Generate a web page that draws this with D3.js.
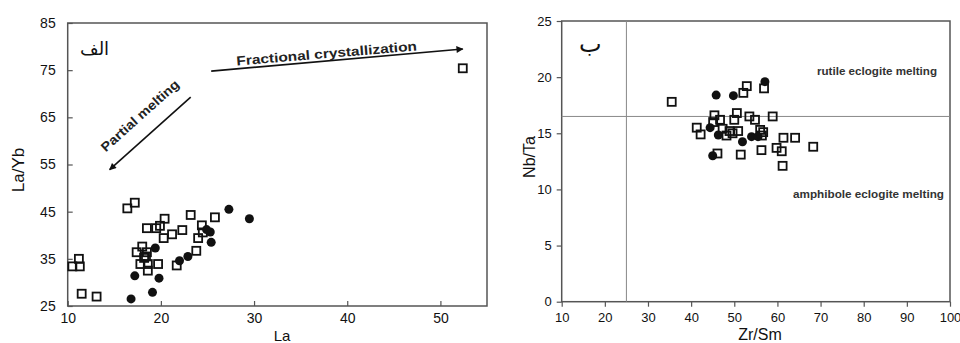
<!DOCTYPE html>
<html>
<head>
<meta charset="utf-8">
<script src="https://cdn.jsdelivr.net/npm/d3@7/dist/d3.min.js"></script>
<style>
  body { margin: 0; background: #fff; }
  svg { display: block; font-family: "Liberation Sans", Arial, sans-serif; }
</style>
</head>
<body>
<div id="chart"></div>
<script>
// left panel: La vs La/Yb
const laTicks = [10, 20, 30, 40, 50];
const laYbTicks = [25, 35, 45, 55, 65, 75, 85];
const laYbOpen = [
  [52.4, 75.4], [10.5, 33.4], [11.3, 33.4], [11.2, 35.0], [11.5, 27.6], [13.1, 27.0],
  [16.4, 45.7], [17.2, 46.9], [18.5, 41.5], [19.5, 41.5], [20.4, 43.5], [19.9, 42.0],
  [20.3, 39.4], [21.2, 40.2], [22.3, 41.1], [23.2, 44.3], [24.4, 42.1], [25.8, 43.8],
  [24.0, 39.4], [24.5, 40.6], [23.8, 36.7], [21.7, 33.6], [17.4, 36.4], [18.0, 37.6],
  [18.5, 36.4], [17.8, 33.9], [18.6, 33.9], [19.7, 33.9], [18.6, 32.5], [18.4, 35.5],
  [18.2, 35.2]
];
const laYbFilled = [
  [27.3, 45.5], [29.5, 43.5], [25.3, 40.7], [24.9, 41.2], [25.4, 38.5], [22.9, 35.5],
  [22.0, 34.6], [19.4, 37.3], [17.2, 31.4], [19.8, 30.9], [19.1, 27.9], [16.8, 26.5]
];

// right panel: Zr/Sm vs Nb/Ta
const zrSmTicks = [10, 20, 30, 40, 50, 60, 70, 80, 90, 100];
const nbTaTicks = [0, 5, 10, 15, 20, 25];
const nbTaOpen = [
  [35.5, 17.8], [41.3, 15.5], [42.2, 14.9], [45.4, 16.6], [46.1, 13.2], [45.1, 16.0],
  [46.7, 16.2], [48.2, 14.8], [48.9, 15.2], [50.6, 16.8], [50.0, 16.2], [50.9, 15.2],
  [51.5, 13.1], [52.1, 18.6], [52.9, 19.2], [53.5, 16.5], [54.8, 16.2], [56.0, 15.3],
  [56.9, 19.0], [56.7, 15.1], [56.4, 14.8], [56.3, 13.5], [58.9, 16.5], [59.8, 13.7],
  [61.0, 13.4], [61.2, 12.1], [61.4, 14.6], [64.1, 14.6], [68.3, 13.8], [47.3, 15.4],
  [49.6, 15.0]
];
const nbTaFilled = [
  [45.8, 18.4], [49.8, 18.35], [57.1, 19.6], [44.4, 15.5], [46.3, 14.85], [45.0, 13.0],
  [51.9, 14.25], [54.0, 14.7], [55.5, 14.7]
];
const zrSmLine = 25;
const nbTaLine = 16.5;

const svg = d3.select('#chart').append('svg')
  .attr('width', 960).attr('height', 343);

const axisColor = '#555';

function drawPoints(g, x, y, open, filled) {
  g.selectAll('rect.pt').data(open).enter().append('rect')
    .attr('class', 'pt')
    .attr('x', d => x(d[0]) - 4).attr('y', d => y(d[1]) - 4)
    .attr('width', 8).attr('height', 8)
    .attr('fill', 'none').attr('stroke', '#111').attr('stroke-width', 1.8);
  g.selectAll('circle.pt').data(filled).enter().append('circle')
    .attr('class', 'pt')
    .attr('cx', d => x(d[0])).attr('cy', d => y(d[1]))
    .attr('r', 4.5).attr('fill', '#111');
}

function styleAxis(g, size) {
  g.select('.domain').remove();
  g.selectAll('line').attr('stroke', axisColor).attr('stroke-width', 1.2);
  g.selectAll('text').attr('fill', '#111').style('font-size', size + 'px');
}

// ---- left panel ----
const x1 = d3.scaleLinear().domain([10, 55]).range([67.7, 487]);
const y1 = d3.scaleLinear().domain([25, 85]).range([306, 23]);
const left = svg.append('g');

left.append('rect')
  .attr('x', x1(10)).attr('y', y1(85))
  .attr('width', x1(55) - x1(10)).attr('height', y1(25) - y1(85))
  .attr('fill', 'none').attr('stroke', axisColor).attr('stroke-width', 1.5);

left.append('g')
  .attr('transform', `translate(0,${y1(25)})`)
  .call(d3.axisBottom(x1).tickValues(laTicks).tickSizeInner(-5).tickSizeOuter(0).tickPadding(7))
  .call(g => styleAxis(g, 14));

left.append('g')
  .attr('transform', `translate(${x1(10)},0)`)
  .call(d3.axisLeft(y1).tickValues(laYbTicks).tickSizeInner(-5).tickSizeOuter(0).tickPadding(12))
  .call(g => styleAxis(g, 14));

left.append('text')
  .attr('x', 282).attr('y', 341)
  .attr('text-anchor', 'middle').style('font-size', '15px').attr('fill', '#111')
  .text('La');

left.append('text')
  .attr('transform', 'translate(24,170) rotate(-90)')
  .attr('text-anchor', 'middle').style('font-size', '17px').attr('fill', '#111')
  .text('La/Yb');

left.append('text')
  .attr('x', 80).attr('y', 55)
  .style('font-family', '"DejaVu Sans", sans-serif').style('font-size', '18px')
  .attr('fill', '#111')
  .text('الف');

const defs = svg.append('defs');
defs.append('marker')
  .attr('id', 'arrow').attr('viewBox', '0 0 10 10')
  .attr('refX', 9).attr('refY', 5)
  .attr('markerWidth', 10).attr('markerHeight', 7)
  .attr('markerUnits', 'userSpaceOnUse')
  .attr('orient', 'auto')
  .append('path').attr('d', 'M0,0 L10,5 L0,10 Z').attr('fill', '#111');

// fractional crystallization arrow
const fc = [[25.4, 74.8], [52.4, 79.5]];
left.append('line')
  .attr('x1', x1(fc[0][0])).attr('y1', y1(fc[0][1]))
  .attr('x2', x1(fc[1][0])).attr('y2', y1(fc[1][1]))
  .attr('stroke', '#111').attr('stroke-width', 1.6)
  .attr('marker-end', 'url(#arrow)');
left.append('text')
  .attr('transform', 'translate(327,58) rotate(-4.8)')
  .attr('text-anchor', 'middle')
  .style('font-size', '13px').style('font-weight', 'bold').attr('fill', '#222')
  .attr('textLength', 181).attr('lengthAdjust', 'spacingAndGlyphs')
  .text('Fractional crystallization');

// partial melting arrow
const pm = [[23.2, 69.3], [14.5, 53.9]];
left.append('line')
  .attr('x1', x1(pm[0][0])).attr('y1', y1(pm[0][1]))
  .attr('x2', x1(pm[1][0])).attr('y2', y1(pm[1][1]))
  .attr('stroke', '#111').attr('stroke-width', 1.6)
  .attr('marker-end', 'url(#arrow)');
left.append('text')
  .attr('transform', 'translate(143,119) rotate(-42)')
  .attr('text-anchor', 'middle')
  .style('font-size', '13px').style('font-weight', 'bold').attr('fill', '#222')
  .attr('textLength', 100).attr('lengthAdjust', 'spacingAndGlyphs')
  .text('Partial melting');

drawPoints(left, x1, y1, laYbOpen, laYbFilled);

// ---- right panel ----
const x2 = d3.scaleLinear().domain([10, 100]).range([561.7, 950]);
const y2 = d3.scaleLinear().domain([0, 25]).range([301.7, 21]);
const right = svg.append('g');

right.append('rect')
  .attr('x', x2(10)).attr('y', y2(25))
  .attr('width', x2(100) - x2(10)).attr('height', y2(0) - y2(25))
  .attr('fill', 'none').attr('stroke', axisColor).attr('stroke-width', 1.5);

right.append('line')
  .attr('x1', x2(zrSmLine)).attr('x2', x2(zrSmLine))
  .attr('y1', y2(25)).attr('y2', y2(0))
  .attr('stroke', '#888').attr('stroke-width', 1);
right.append('line')
  .attr('x1', x2(10)).attr('x2', x2(100))
  .attr('y1', y2(nbTaLine)).attr('y2', y2(nbTaLine))
  .attr('stroke', '#888').attr('stroke-width', 1);

right.append('g')
  .attr('transform', `translate(0,${y2(0)})`)
  .call(d3.axisBottom(x2).tickValues(zrSmTicks).tickSizeInner(5).tickSizeOuter(0).tickPadding(6))
  .call(g => styleAxis(g, 13));

right.append('g')
  .attr('transform', `translate(${x2(10)},0)`)
  .call(d3.axisLeft(y2).tickValues(nbTaTicks).tickSizeInner(5).tickSizeOuter(0).tickPadding(5))
  .call(g => styleAxis(g, 13));

right.append('text')
  .attr('x', 760).attr('y', 340)
  .attr('text-anchor', 'middle').style('font-size', '16px').attr('fill', '#111')
  .text('Zr/Sm');

right.append('text')
  .attr('transform', 'translate(535,157) rotate(-90)')
  .attr('text-anchor', 'middle').style('font-size', '16px').attr('fill', '#111')
  .text('Nb/Ta');

right.append('text')
  .attr('x', 579).attr('y', 52)
  .style('font-family', '"DejaVu Sans", sans-serif').style('font-size', '24px')
  .attr('fill', '#111')
  .text('ب');

right.append('text')
  .attr('x', 817).attr('y', 75)
  .style('font-size', '10px').style('font-weight', 'bold').attr('fill', '#333')
  .attr('textLength', 120).attr('lengthAdjust', 'spacingAndGlyphs')
  .text('rutile eclogite melting');
right.append('text')
  .attr('x', 793).attr('y', 198)
  .style('font-size', '10px').style('font-weight', 'bold').attr('fill', '#333')
  .attr('textLength', 151).attr('lengthAdjust', 'spacingAndGlyphs')
  .text('amphibole eclogite melting');

drawPoints(right, x2, y2, nbTaOpen, nbTaFilled);
</script>
</body>
</html>
